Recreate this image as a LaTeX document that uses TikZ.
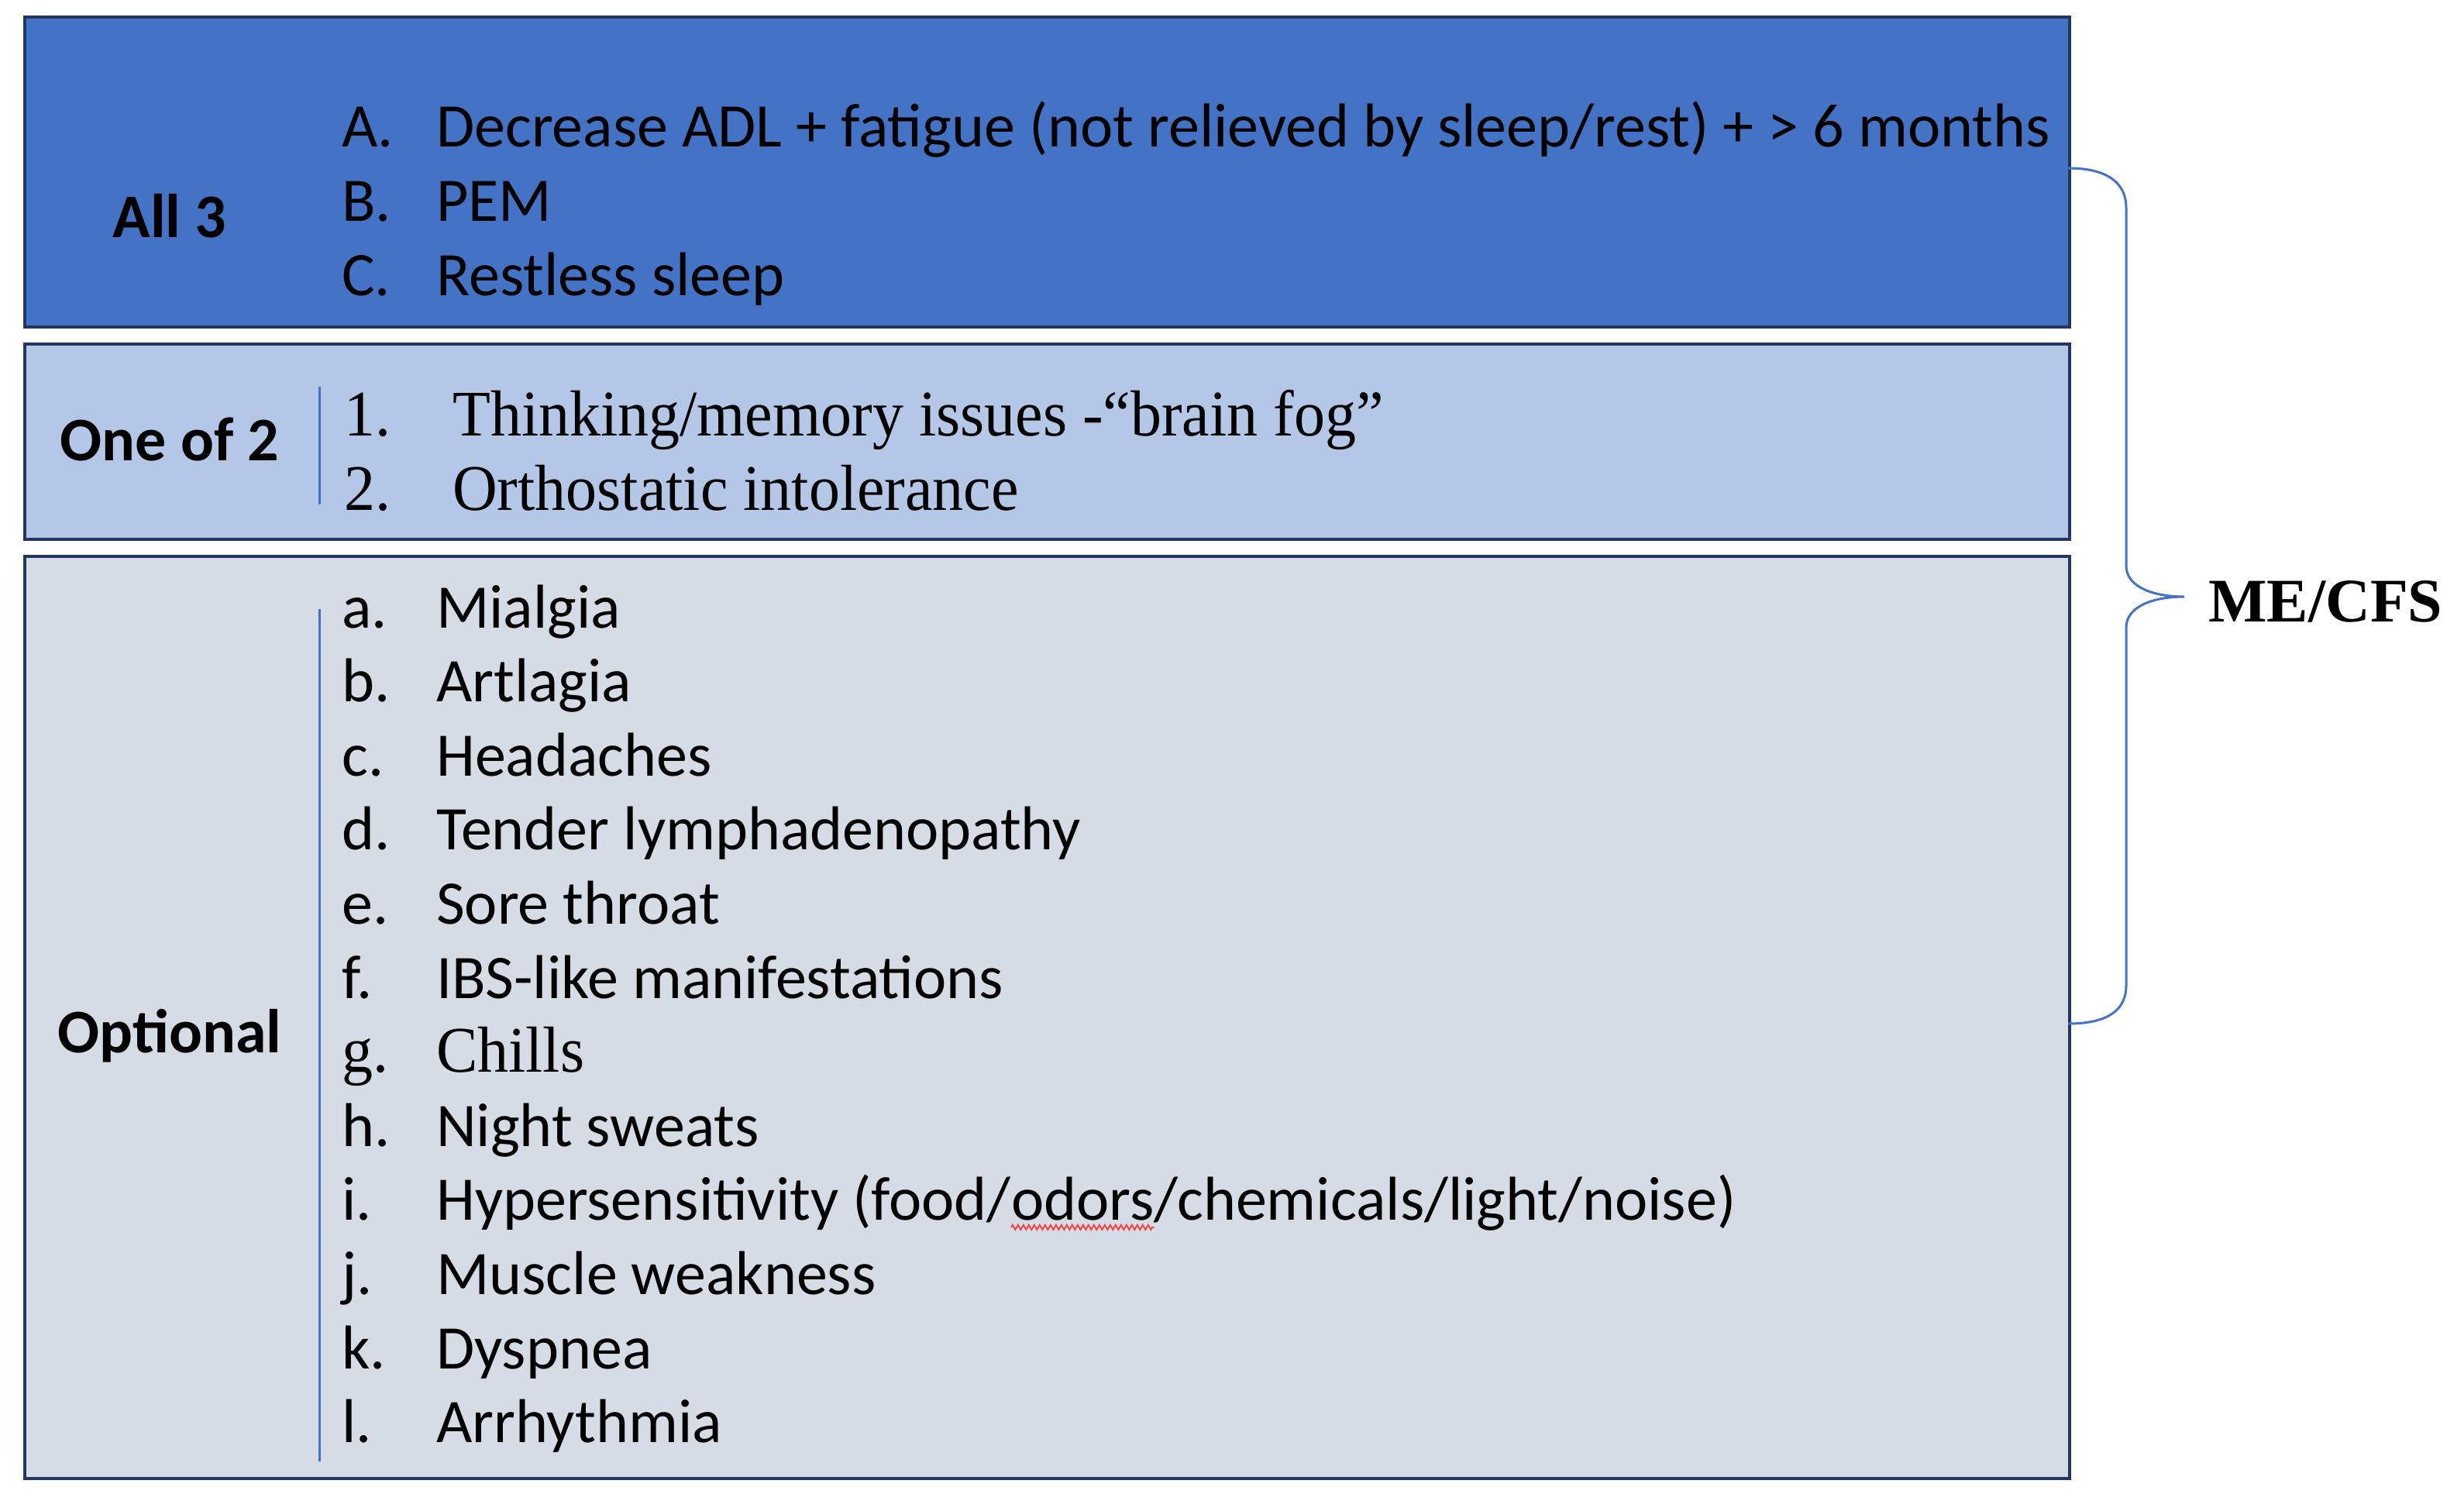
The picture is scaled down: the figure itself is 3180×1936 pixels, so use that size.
\documentclass[tikz,border=0pt]{standalone}
\usepackage{fontspec}
\setmainfont{Carlito}
\newfontfamily\tnr{Liberation Serif}
\newfontfamily\tnrc[FakeStretch=0.952]{Liberation Serif}
\usetikzlibrary{decorations.pathmorphing}
\definecolor{dkblue}{HTML}{4472C4}
\definecolor{midblue}{HTML}{B4C7E7}
\definecolor{ltgray}{HTML}{D6DCE5}
\definecolor{edgec}{HTML}{22375E}
\definecolor{accent}{HTML}{4472C4}
\definecolor{squigc}{HTML}{F04848}
\begin{document}
\begin{tikzpicture}[x=1pt,y=-1pt,
  panel/.style={draw=edgec, line width=4pt, inner sep=0pt, minimum width=2639pt, anchor=north west},
  cat/.style={font=\fontsize{80}{96}\selectfont\bfseries, inner sep=0pt, anchor=base},
  txt/.style={font=\fontsize{80}{96}\selectfont, inner sep=0pt, anchor=base west},
  serif/.style={font=\fontsize{84}{100}\selectfont\tnrc, inner sep=0pt, anchor=base west},
  sepline/.style={draw=accent, line width=3pt},
  bracec/.style={draw=accent, line width=3pt},
]
\useasboundingbox (0,0) rectangle (3180,1936);

% panels
\node[panel, fill=dkblue, minimum height=400pt] (p1) at (30,20) {};
\node[panel, fill=midblue, minimum height=252pt] (p2) at (30,442) {};
\node[panel, fill=ltgray, minimum height=1190pt] (p3) at (30,716) {};

% category labels
\node[cat] (c1) at (219,306) {All 3};
\node[cat] (c2) at (219,594) {One of 2};
\node[cat] (c3) at (219,1358) {Optional};

% separators
\draw[sepline] (412,499) -- (412,651);
\draw[sepline] (412,786) -- (412,1886);

% All 3 items
\node[txt] (nA) at (441,189) {A.};
\node[txt] (tA) at (563,189) {Decrease ADL + fatigue (not relieved by sleep/rest) + > 6 months};
\node[txt] (nB) at (441,285) {B.};
\node[txt] (tB) at (563,285) {PEM};
\node[txt] (nC) at (441,381) {C.};
\node[txt] (tC) at (563,381) {Restless sleep};

% One of 2 items
\node[serif] (n1) at (444,562) {1.};
\node[serif] (t1) at (584,562) {Thinking/memory issues -“brain fog”};
\node[serif] (n2) at (444,658) {2.};
\node[serif] (t2) at (584,658) {Orthostatic intolerance};

% Optional items
\foreach \lab/\txt [count=\k from 0] in {a/Mialgia, b/Artlagia, c/Headaches, d/Tender lymphadenopathy, e/Sore throat, f/IBS-like manifestations} {
  \node[txt] (n\lab) at (441,810+\k*95.6) {\lab.};
  \node[txt] (t\lab) at (563,810+\k*95.6) {\txt};
}
\node[serif] (ng) at (441,810+6*95.6) {g.};
\node[serif] (tg) at (563,810+6*95.6) {Chills};
\node[txt] (nh) at (441,810+7*95.6) {h.};
\node[txt] (th) at (563,810+7*95.6) {Night sweats};
\node[txt] (ni) at (441,810+8*95.6) {i.};
\node[txt] (ti1) at (563,810+8*95.6) {Hypersensitivity (food/};
\node[txt] (ti2) at (ti1.base east) {odors};
\node[txt] (ti3) at (ti2.base east) {/chemicals/light/noise)};
\draw[squigc, line width=2pt, decorate, decoration={zigzag, segment length=7pt, amplitude=3pt}]
  ([yshift=-9pt]ti2.base west) -- ([yshift=-9pt]ti2.base east);
\foreach \lab/\txt [count=\k from 9] in {j/Muscle weakness, k/Dyspnea, l/Arrhythmia} {
  \node[txt] (n\lab) at (441,810+\k*95.6) {\lab.};
  \node[txt] (t\lab) at (563,810+\k*95.6) {\txt};
}

% brace and ME/CFS
\coordinate (btop) at (2669,217);
\coordinate (bbot) at (2669,1321);
\coordinate (btip) at (2819,770);
\node[font=\fontsize{80}{96}\selectfont\tnr\bfseries, inner sep=0pt, anchor=base west] (me) at (2850,802) {ME/CFS};
\draw[bracec] (btop) .. controls (2725,217) and (2744,240) .. (2744,268)
  -- (2744,730) .. controls (2744,758) and (2780,770) .. (btip)
  .. controls (2780,770) and (2744,782) .. (2744,810)
  -- (2744,1272) .. controls (2744,1300) and (2725,1321) .. (bbot);
\end{tikzpicture}
\end{document}
